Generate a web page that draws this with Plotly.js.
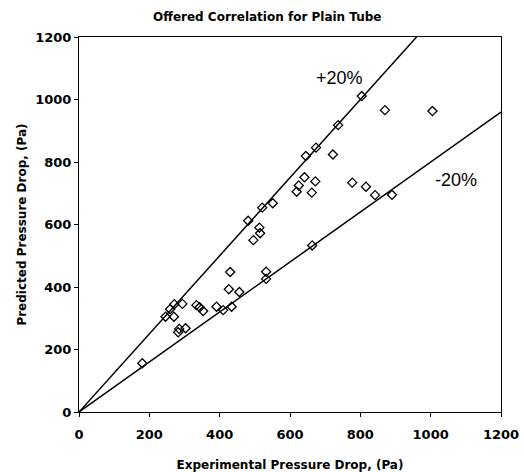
<!DOCTYPE html>
<html>
<head>
<meta charset="utf-8">
<script src="https://cdn.plot.ly/plotly-3.0.1.min.js"></script>
<style>html,body{margin:0;padding:0;background:#fff;}#chart{width:524px;height:472px;}</style>
</head>
<body>
<div id="chart"></div>
<script>
const experimental = [180,246,259,270,271,294,285,282,303,334,343,353,391,410,434,456,426,430,496,513,515,481,532,532,521,551,619,625,641,672,662,645,674,722,737,804,870,1005,777,816,842,890,663];
const predicted    = [156,305,329,305,345,346,266,255,268,342,335,323,337,326,337,384,393,448,550,590,572,612,449,426,654,668,705,725,751,738,702,819,846,824,918,1011,966,963,734,721,694,695,533];
const boundSlopes = [1.25, 0.8];
const boundLabels = ['+20%', '-20%'];
const labelX = [742, 1072];
const labelY = [1069, 742];
const axisMax = 1200;
const tickVals = [0,200,400,600,800,1000,1200];

const traces = [{
  x: experimental, y: predicted, type: 'scatter', mode: 'markers',
  marker: {symbol: 'diamond-open', size: 7, color: '#000', line: {width: 1.3, color: '#000'}},
  showlegend: false, hoverinfo: 'x+y'
}];
boundSlopes.forEach(s => {
  const xEnd = Math.min(axisMax, axisMax / s);
  traces.push({x: [0, xEnd], y: [0, xEnd * s], type: 'scatter', mode: 'lines',
    line: {color: '#000', width: 1.5}, showlegend: false, hoverinfo: 'skip'});
});

const boldFam = '"DejaVu Sans", Arial, sans-serif';
const labFam = '"Liberation Sans", Arial, sans-serif';
const layout = {
  width: 524, height: 472,
  margin: {l: 79, r: 23, t: 37, b: 60},
  paper_bgcolor: '#fff', plot_bgcolor: '#fff',
  title: {text: 'Offered Correlation for Plain Tube', x: 0.51, xref: 'container', y: 0.965, yanchor: 'middle',
    font: {family: boldFam, size: 12, weight: 'bold', color: '#000'}},
  xaxis: {range: [0, axisMax], tickvals: tickVals, ticks: 'outside', ticklen: 4, tickcolor: '#000',
    ticklabelstandoff: 6,
    showline: true, linecolor: '#000', linewidth: 1, mirror: true, showgrid: false, zeroline: false,
    tickfont: {family: boldFam, size: 13, weight: 'bold', color: '#000'},
    title: {text: 'Experimental Pressure Drop, (Pa)', standoff: 20, font: {family: boldFam, size: 12, weight: 'bold', color: '#000'}}},
  yaxis: {range: [0, axisMax], tickvals: tickVals, ticks: 'outside', ticklen: 4, tickcolor: '#000',
    showline: true, linecolor: '#000', linewidth: 1, mirror: true, showgrid: false, zeroline: false,
    tickfont: {family: boldFam, size: 13, weight: 'bold', color: '#000'},
    title: {text: 'Predicted Pressure Drop, (Pa)', standoff: 6, font: {family: boldFam, size: 12, weight: 'bold', color: '#000'}}},
  annotations: boundLabels.map((t, i) => ({x: labelX[i], y: labelY[i], text: t, showarrow: false,
    font: {family: labFam, size: 18, color: '#000'}}))
};
Plotly.newPlot('chart', traces, layout, {displayModeBar: false, staticPlot: true});
</script>
</body>
</html>
